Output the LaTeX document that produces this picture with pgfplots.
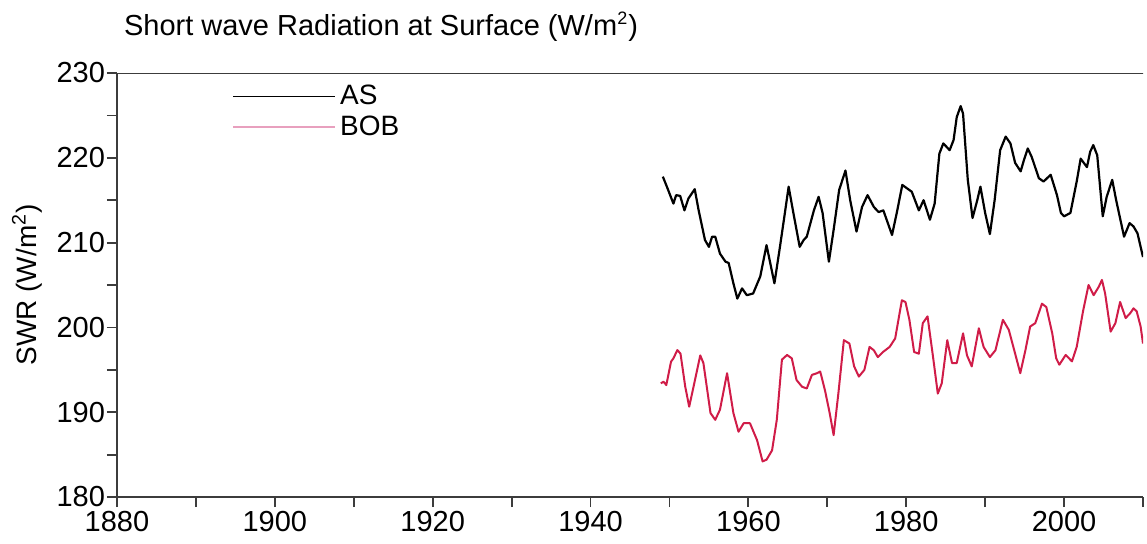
\documentclass[border=0pt]{standalone}
\usepackage{fontspec}
\setmainfont{Liberation Sans}
\usepackage{pgfplots}
\pgfplotsset{compat=1.18}
\definecolor{bob}{RGB}{208,28,72}
\definecolor{bobleg}{RGB}{232,160,190}
\definecolor{axgray}{RGB}{60,60,60}
\begin{document}
\begin{tikzpicture}
\useasboundingbox (-58.5pt,-23pt) rectangle (515pt,248.5pt);
\begin{axis}[
  scale only axis,
  width=513pt, height=212pt,
  xmin=1880, xmax=2010, ymin=180, ymax=230,
  axis lines*=left,
  axis line style={-, axgray, line width=0.9pt},
  xtick={1880,1900,...,2000},
  minor xtick={1890,1910,...,2010},
  ytick={180,190,...,230},
  minor ytick={185,195,...,225},
  tick align=outside,
  major tick length=5pt, minor tick length=5pt,
  tick style={axgray, line width=0.9pt},
  /pgf/number format/assume math mode=true,
  /pgf/number format/1000 sep={},
  ticklabel style={font=\fontsize{14.5}{16}\selectfont},
  xticklabel style={yshift=1.5pt},
  yticklabel style={xshift=2.5pt},
  ylabel={SWR (W/m\textsuperscript{2})},
  ylabel style={font=\fontsize{14}{16}\selectfont, at={(axis description cs:0,0.5)}, anchor=south, yshift=34pt},
  title={Short wave Radiation at Surface (W/m\textsuperscript{\fontsize{9}{9}\selectfont 2})},
  title style={font=\fontsize{14.5}{16}\selectfont, at={(axis description cs:0,1)}, anchor=base west, yshift=13pt, xshift=0pt},
  legend style={draw=none, fill=none, at={(axis description cs:0,1)}, anchor=north west, xshift=55.5pt, yshift=-2pt, font=\fontsize{14}{16}\selectfont, row sep=0pt, inner sep=2pt},
  legend cell align=left,
  legend image code/.code={\draw[#1] (0pt,0pt) -- (51pt,0pt);},
  clip=true,
]
\addplot[black, line width=1.1pt, line join=round, forget plot] coordinates {
(1949.16,217.78) (1949.67,216.6) (1950.5,214.6) (1950.85,215.6) (1951.36,215.5)
(1951.9,213.8) (1952.4,215.2) (1953.2,216.3) (1953.7,213.8) (1954.5,210.3)
(1955.0,209.5) (1955.4,210.7) (1955.8,210.7) (1956.4,208.7) (1957.1,207.75)
(1957.5,207.6) (1958.1,205.2) (1958.6,203.4) (1959.2,204.6) (1959.8,203.8)
(1960.6,204.0) (1961.5,206.0) (1962.3,209.7) (1963.3,205.2) (1964.0,209.5)
(1964.5,212.7) (1965.1,216.6) (1965.7,213.5) (1966.5,209.5) (1967.0,210.3)
(1967.4,210.7) (1968.3,213.8) (1968.9,215.4) (1969.4,213.5) (1970.2,207.75)
(1970.8,211.5) (1971.5,216.2) (1972.3,218.5) (1972.9,215.0) (1973.7,211.3)
(1974.4,214.2) (1975.1,215.6) (1975.9,214.2) (1976.5,213.6) (1977.1,213.8)
(1978.2,210.9) (1978.8,213.5) (1979.5,216.8) (1980.1,216.4) (1980.7,216.0)
(1981.6,213.8) (1982.2,215.0) (1983.0,212.7) (1983.6,214.6) (1984.2,220.5)
(1984.7,221.7) (1985.5,220.9) (1986.0,222.1) (1986.4,224.8) (1986.9,226.1)
(1987.2,225.2) (1987.8,217.4) (1988.4,212.9) (1989.0,215.0) (1989.4,216.6)
(1990.0,213.5) (1990.6,211.0) (1991.2,215.0) (1991.9,220.9) (1992.6,222.5)
(1993.2,221.7) (1993.8,219.4) (1994.5,218.4) (1994.9,219.7) (1995.4,221.1)
(1995.9,220.1) (1996.8,217.6) (1997.4,217.2) (1998.3,218.0) (1999.1,215.6)
(1999.6,213.5) (2000.0,213.1) (2000.8,213.5) (2001.6,217.2) (2002.1,219.9)
(2002.9,218.9) (2003.3,220.7) (2003.7,221.5) (2004.2,220.3) (2004.9,213.1)
(2005.4,215.4) (2006.1,217.4) (2006.6,215.0) (2007.6,210.7) (2008.3,212.3)
(2008.8,211.9) (2009.3,211.1) (2010.0,208.3)
};
\addplot[bob, line width=1.0pt, line join=round, forget plot] coordinates {
(1948.9,193.4) (1949.25,193.6) (1949.6,193.2) (1950.2,195.96) (1950.5,196.35)
(1951.0,197.33) (1951.4,196.9) (1952.0,193.0) (1952.5,190.65) (1953.05,193.0)
(1953.9,196.7) (1954.3,195.8) (1955.2,189.9) (1955.8,189.1) (1956.4,190.3)
(1957.3,194.6) (1958.1,189.9) (1958.75,187.7) (1959.4,188.7) (1960.2,188.7)
(1961.1,186.7) (1961.8,184.2) (1962.3,184.4) (1963.0,185.5) (1963.6,189.1)
(1964.25,196.2) (1964.9,196.75) (1965.5,196.35) (1966.1,193.8) (1966.8,193.0)
(1967.4,192.8) (1968.05,194.4) (1968.7,194.6) (1969.1,194.8) (1969.7,192.6)
(1970.3,189.9) (1970.8,187.3) (1971.4,192.2) (1972.1,198.5) (1972.8,198.1)
(1973.4,195.4) (1974.0,194.2) (1974.7,195.0) (1975.35,197.7) (1975.9,197.3)
(1976.4,196.5) (1977.05,197.1) (1977.9,197.7) (1978.6,198.7) (1979.2,201.9)
(1979.45,203.2) (1979.9,203.0) (1980.4,200.9) (1981.0,197.1) (1981.6,196.9)
(1982.1,200.5) (1982.7,201.3) (1983.4,196.5) (1984.0,192.2) (1984.5,193.4)
(1985.2,198.5) (1985.8,195.8) (1986.4,195.8) (1987.2,199.3) (1987.7,196.7)
(1988.3,195.4) (1989.2,199.9) (1989.8,197.7) (1990.6,196.5) (1991.3,197.3)
(1992.25,200.9) (1993.0,199.7) (1993.8,196.9) (1994.45,194.6) (1995.1,197.3)
(1995.7,200.1) (1996.35,200.5) (1997.2,202.8) (1997.75,202.4) (1998.5,199.3)
(1999.0,196.35) (1999.4,195.6) (2000.2,196.75) (2001.0,196.0) (2001.6,197.7)
(2002.4,201.9) (2003.1,205.0) (2003.75,203.8) (2004.4,204.8) (2004.8,205.6)
(2005.2,204.0) (2005.9,199.5) (2006.5,200.5) (2007.1,203.0) (2007.8,201.1)
(2008.4,201.7) (2008.8,202.25) (2009.2,201.9) (2009.7,200.1) (2010.0,198.1)
};
\addlegendimage{black, line width=0.7pt}
\addlegendentry{AS}
\addlegendimage{bobleg, line width=0.9pt}
\addlegendentry{BOB}
\draw[axgray, line width=0.9pt] (rel axis cs:0,1) -- (rel axis cs:1.01,1);
\end{axis}
\end{tikzpicture}
\end{document}
